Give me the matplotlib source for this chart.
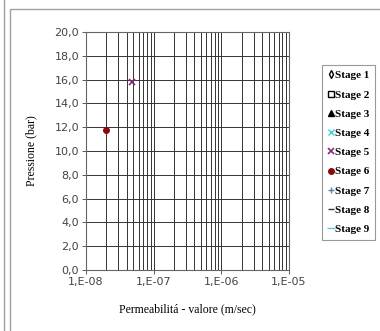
import numpy as np
import matplotlib
matplotlib.use("Agg")
import matplotlib.pyplot as plt
from matplotlib.patches import Rectangle

# Data (only stages 5 and 6 have points)
stages = ["Stage 1", "Stage 2", "Stage 3", "Stage 4", "Stage 5",
          "Stage 6", "Stage 7", "Stage 8", "Stage 9"]
stage_k = {"Stage 5": [4.8e-8], "Stage 6": [1.95e-8]}
stage_p = {"Stage 5": [15.8], "Stage 6": [11.8]}

yticks = np.arange(0, 20.1, 2.0)
ytick_labels = [("%.1f" % v).replace(".", ",") for v in yticks]
xticks = [1e-8, 1e-7, 1e-6, 1e-5]
xtick_labels = ["1,E-08", "1,E-07", "1,E-06", "1,E-05"]

# marker styles per stage
styles = {
    "Stage 1": dict(marker="d", mfc="white", mec="black", ms=4),
    "Stage 2": dict(marker="s", mfc="white", mec="black", ms=4),
    "Stage 3": dict(marker="^", mfc="black", mec="black", ms=4),
    "Stage 4": dict(marker="x", mfc="none", mec="#40d0e0", ms=4),
    "Stage 5": dict(marker="x", mfc="none", mec="#8a2a7a", ms=4, mew=1.2),
    "Stage 6": dict(marker="o", mfc="#8b0a0a", mec="#8b0a0a", ms=4),
    "Stage 7": dict(marker="+", mfc="none", mec="#6080a0", ms=5),
    "Stage 8": dict(marker="_", mfc="none", mec="#303050", ms=4),
    "Stage 9": dict(marker="_", mfc="none", mec="#60c8d8", ms=6),
}

fig = plt.figure(figsize=(3.8, 3.31), dpi=100)

# outer frame lines
fig.patches.append(Rectangle((10/380, -0.05), 1.0, 1.05 - 9/331, transform=fig.transFigure,
                             fill=False, ec="#a0a0a0", lw=1.0))
fig.lines.append(plt.Line2D([4/380, 4/380], [0, 1], transform=fig.transFigure,
                            color="#a0a0a0", lw=1.0))

ax = fig.add_axes([86/380, 1 - 270/331, 203/380, 238/331])
ax.set_xscale("log")
ax.set_xlim(1e-8, 1e-5)
ax.set_ylim(0, 20)

handles = []
for s in stages:
    h, = ax.plot(stage_k.get(s, []), stage_p.get(s, []), ls="none", label=s, **styles[s])
    handles.append(h)

ax.set_yticks(yticks)
ax.set_yticklabels(ytick_labels)
ax.set_xticks(xticks)
ax.set_xticklabels(xtick_labels)
ax.tick_params(axis="both", labelsize=8, length=3, width=0.6, colors="#444444", pad=2)
ax.tick_params(axis="x", which="minor", length=0)
ax.grid(True, which="major", color="#333333", lw=0.7)
ax.grid(True, which="minor", axis="x", color="#333333", lw=0.7)
for sp in ax.spines.values():
    sp.set_color("#666666")
    sp.set_linewidth(0.8)

ax.set_ylabel("Pressione (bar)", family="Liberation Serif", fontsize=8.5, labelpad=12)
ax.set_xlabel("Permeabilitá - valore (m/sec)", family="Liberation Serif", fontsize=8.5, labelpad=12)

leg = fig.legend(handles=handles, loc="upper left", bbox_to_anchor=(322/380, 1 - 65/331),
                 prop=dict(family="Liberation Serif", size=8, weight="bold"),
                 frameon=True, fancybox=False, handlelength=0.6, handletextpad=0.1,
                 labelspacing=0.85, borderpad=0.5, borderaxespad=0)
leg.get_frame().set_edgecolor("#808080")
leg.get_frame().set_linewidth(0.8)

plt.savefig("out.png", dpi=100)
